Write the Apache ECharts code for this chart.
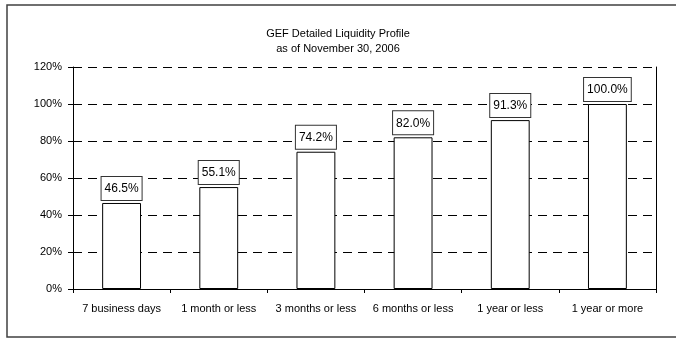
<!DOCTYPE html>
<html>
<head>
<meta charset="utf-8">
<script src="https://cdn.jsdelivr.net/npm/echarts@6/dist/echarts.min.js"></script>
<style>
  html, body { margin: 0; padding: 0; background: #fff; }
  #chart { width: 676px; height: 339px; }
</style>
</head>
<body>
<div id="chart"></div>
<script>
// Liquidity buckets and cumulative share of the fund available in each
const categories = ['7 business days', '1 month or less', '3 months or less', '6 months or less', '1 year or less', '1 year or more'];
const liquidity = [46.5, 55.1, 74.2, 82.0, 91.3, 100.0];
const yTicks = [0, 20, 40, 60, 80, 100, 120];

const FONT = "'Liberation Sans', Arial, sans-serif";

const chart = echarts.init(document.getElementById('chart'), null, { renderer: 'canvas' });

chart.setOption({
  animation: false,
  backgroundColor: '#fff',
  textStyle: { fontFamily: FONT },
  title: {
    text: 'GEF Detailed Liquidity Profile\nas of November 30, 2006',
    left: 'center',
    top: 21,
    textStyle: { fontFamily: FONT, fontSize: 11, fontWeight: 'normal', color: '#000', lineHeight: 15 }
  },
  graphic: [{
    type: 'rect',
    shape: { x: 7, y: 5, width: 690, height: 332 },
    style: { fill: 'none', stroke: '#404040', lineWidth: 1.5 },
    silent: true
  }],
  grid: { left: 73, right: 20, top: 67, bottom: 50 },
  xAxis: {
    type: 'category',
    data: categories,
    axisLine: { lineStyle: { color: '#000', width: 1 } },
    axisTick: { show: true, length: 4, lineStyle: { color: '#000' } },
    axisLabel: { color: '#000', fontSize: 11, margin: 14, interval: 0, fontFamily: FONT }
  },
  yAxis: [{
    type: 'value',
    min: yTicks[0],
    max: yTicks[yTicks.length - 1],
    interval: yTicks[1] - yTicks[0],
    axisLine: { show: true, lineStyle: { color: '#000', width: 1 } },
    axisTick: { show: true, length: 5, lineStyle: { color: '#000' } },
    axisLabel: { color: '#000', fontSize: 11, margin: 11, fontFamily: FONT, formatter: '{value}%' },
    splitLine: { show: true, lineStyle: { color: '#000', width: 1, type: [9, 6] } }
  }, {
    type: 'value',
    position: 'right',
    min: yTicks[0],
    max: yTicks[yTicks.length - 1],
    interval: yTicks[1] - yTicks[0],
    axisLine: { show: true, lineStyle: { color: '#000', width: 1 } },
    axisTick: { show: false },
    axisLabel: { show: false },
    splitLine: { show: false }
  }],
  series: [{
    type: 'bar',
    data: liquidity,
    barWidth: '40%',
    itemStyle: { color: '#fff', borderColor: '#000', borderWidth: 1 },
    label: {
      show: true,
      position: 'top',
      distance: 3,
      formatter: p => p.value.toFixed(1) + '%',
      fontFamily: FONT,
      fontSize: 12,
      color: '#000',
      backgroundColor: '#fff',
      borderColor: '#333',
      borderWidth: 1,
      padding: [6, 3, 5, 3]
    }
  }]
});
</script>
</body>
</html>
